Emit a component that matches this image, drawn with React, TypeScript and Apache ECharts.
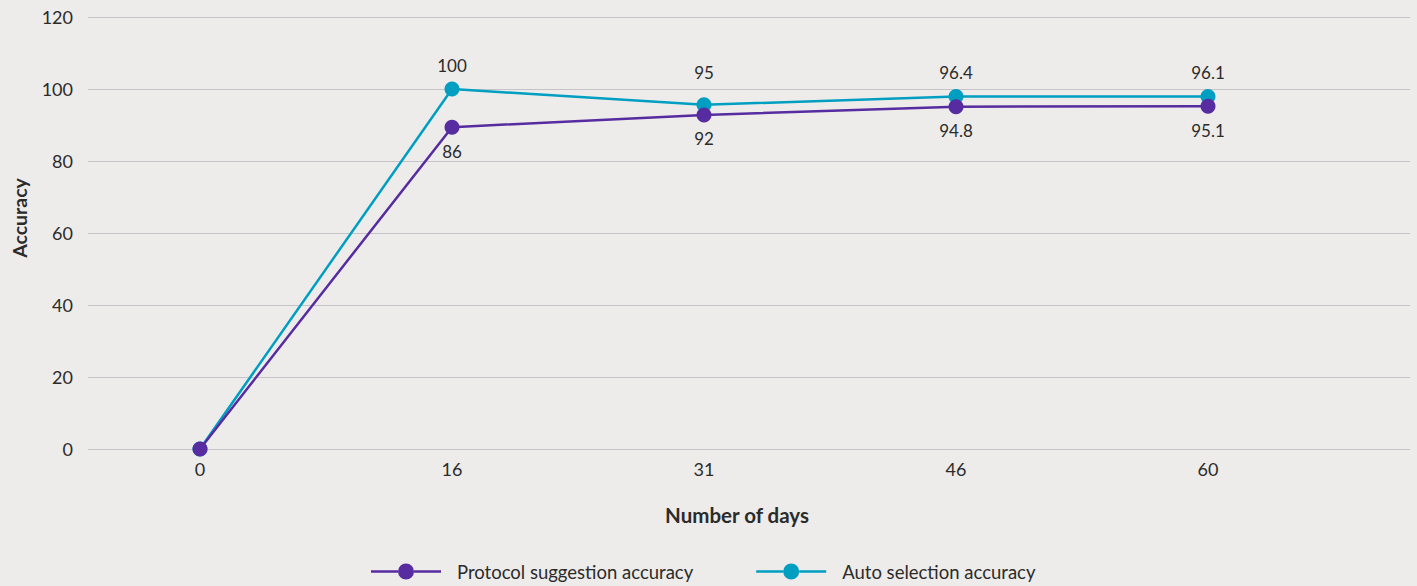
import React, { useEffect, useRef } from "react";
import * as echarts from "echarts";

const days = ["0", "16", "31", "46", "60"];
const protocolValues = [0, 89.4, 92.8, 95.1, 95.2];
const protocolLabels = ["", "86", "92", "94.8", "95.1"];
const autoValues = [0, 100, 95.6, 97.9, 97.9];
const autoLabels = ["", "100", "95", "96.4", "96.1"];
const yTicks = { min: 0, max: 120, interval: 20 };

const PURPLE = "#572ca0";
const CYAN = "#009fc2";
const TEXT = "#2b2b2b";
const FONT = "Lato";
const LEGEND_ICON =
  "path://M0,6.8H27V9.2H0Z M43,6.8H70V9.2H43Z M27,8A8,8 0 1 0 43,8A8,8 0 1 0 27,8Z";

export default function App() {
  const ref = useRef<HTMLDivElement>(null);
  useEffect(() => {
    document.body.style.margin = "0";
    const chart = echarts.init(ref.current!, null, { renderer: "svg" });
    const mk = (vals: number[], labels: string[], pos: "top" | "bottom", dist: number[]) =>
      vals.map((v, i) => ({
        value: v,
        label: {
          show: labels[i] !== "",
          position: pos,
          distance: dist[i],
          formatter: () => labels[i],
        },
      }));
    chart.setOption({
      animation: false,
      backgroundColor: "#edecea",
      textStyle: { fontFamily: FONT },
      grid: [
        { left: 88, right: 7, top: 17, bottom: 137 },
        { left: 74, right: 83, top: 17, bottom: 137 },
      ],
      xAxis: [
        { type: "value", gridIndex: 0, show: false, min: 0, max: 1 },
        {
          type: "category",
          gridIndex: 1,
          data: days,
          boundaryGap: true,
          axisLine: { show: false },
          axisTick: { show: false },
          axisLabel: { fontSize: 18, color: TEXT, margin: 11, fontFamily: FONT },
        },
      ],
      yAxis: [
        {
          type: "value",
          gridIndex: 0,
          min: yTicks.min,
          max: yTicks.max,
          interval: yTicks.interval,
          axisLine: { show: false },
          axisTick: { show: false },
          splitLine: { lineStyle: { color: "#c4c3c8", width: 1 } },
          axisLabel: { fontSize: 18, color: TEXT, margin: 15, fontFamily: FONT },
        },
        {
          type: "value",
          gridIndex: 1,
          min: yTicks.min,
          max: yTicks.max,
          interval: yTicks.interval,
          show: false,
          splitLine: { show: false },
        },
      ],
      legend: {
        data: ["Protocol suggestion accuracy", "Auto selection accuracy"],
        icon: LEGEND_ICON,
        left: 371,
        top: 562,
        padding: 0,
        itemWidth: 70,
        itemHeight: 16,
        itemGap: 63,
        textStyle: { fontSize: 18.5, color: TEXT, fontFamily: FONT, padding: [0, 0, 0, 11] },
      },
      graphic: [
        {
          type: "text",
          x: 19,
          y: 218,
          rotation: Math.PI / 2,
          style: {
            text: "Accuracy",
            fontSize: 19.5,
            fontWeight: "bold",
            fill: TEXT,
            fontFamily: FONT,
            align: "center",
            verticalAlign: "middle",
          },
        },
        {
          type: "text",
          x: 737,
          y: 515,
          style: {
            text: "Number of days",
            fontSize: 20.5,
            fontWeight: "bold",
            fill: TEXT,
            fontFamily: FONT,
            align: "center",
            verticalAlign: "middle",
          },
        },
      ],
      series: [
        {
          name: "Auto selection accuracy",
          type: "line",
          xAxisIndex: 1,
          yAxisIndex: 1,
          z: 2,
          symbol: "circle",
          symbolSize: 15,
          color: CYAN,
          lineStyle: { width: 2.5, color: CYAN },
          itemStyle: { color: CYAN },
          label: { fontSize: 17, color: TEXT, fontFamily: FONT },
          data: mk(autoValues, autoLabels, "top", [8, 8, 16, 8, 8]),
        },
        {
          name: "Protocol suggestion accuracy",
          type: "line",
          xAxisIndex: 1,
          yAxisIndex: 1,
          z: 3,
          symbol: "circle",
          symbolSize: 15,
          color: PURPLE,
          lineStyle: { width: 2.5, color: PURPLE },
          itemStyle: { color: PURPLE },
          label: { fontSize: 17, color: TEXT, fontFamily: FONT },
          data: mk(protocolValues, protocolLabels, "bottom", [8, 8, 8, 8, 8]),
        },
      ],
    });
    return () => chart.dispose();
  }, []);
  return (
    <div
      ref={ref}
      style={{ position: "absolute", left: 0, top: 0, width: 1417, height: 586 }}
    />
  );
}
